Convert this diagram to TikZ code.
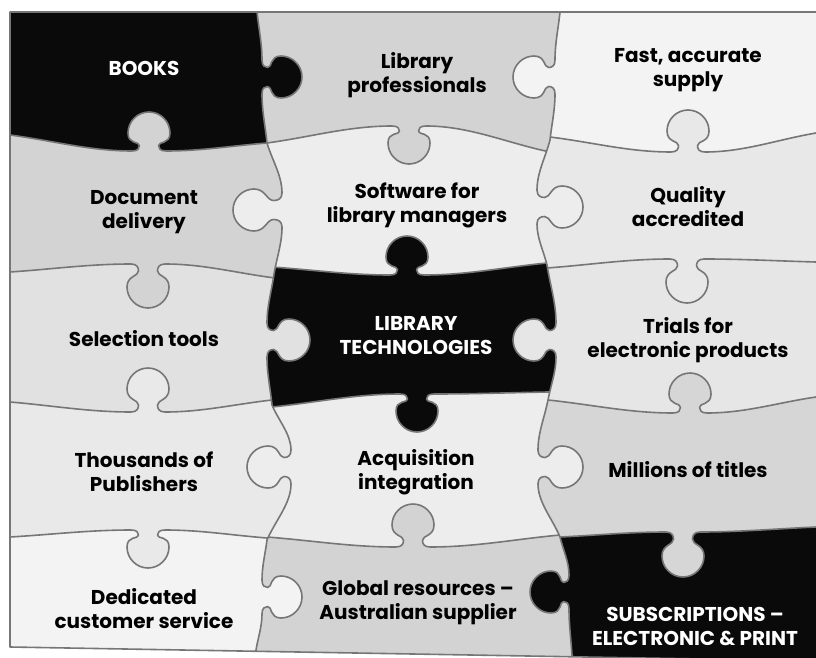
\documentclass[tikz,border=0pt]{standalone}
\usepackage{fontspec}
\setmainfont{Poppins}
% horizontal edge with knob: #1 Px #2 Py #3 kx #4 ky #5 sign #6 Ex #7 Ey #8 hc
\newcommand\HS[8]{ .. controls ({#1+0.35*(#3-17-(#1))},{#2+0.35*(#4-(#2))}) and ({#3-17-0.35*(#3-17-(#1))},{#4}) .. ({#3-17},{#4})
 .. controls ({#3-11},{#4}) and ({#3-9.5},{#4+(#5)*0.15*#8}) .. ({#3-9.5},{#4+(#5)*0.3*#8})
 .. controls ({#3-9.5},{#4+(#5)*0.545*#8}) and ({#3-21},{#4+(#5)*(#8-11.5)}) .. ({#3-21},{#4+(#5)*#8})
 .. controls ({#3-21},{#4+(#5)*(#8+11.5)}) and ({#3-11.5},{#4+(#5)*(#8+21)}) .. ({#3},{#4+(#5)*(#8+21)})
 .. controls ({#3+11.5},{#4+(#5)*(#8+21)}) and ({#3+21},{#4+(#5)*(#8+11.5)}) .. ({#3+21},{#4+(#5)*#8})
 .. controls ({#3+21},{#4+(#5)*(#8-11.5)}) and ({#3+9.5},{#4+(#5)*0.545*#8}) .. ({#3+9.5},{#4+(#5)*0.3*#8})
 .. controls ({#3+9.5},{#4+(#5)*0.15*#8}) and ({#3+11},{#4}) .. ({#3+17},{#4})
 .. controls ({#3+17+0.35*(#6-(#3)-17)},{#4}) and ({#6-0.35*(#6-(#3)-17)},{#7-0.35*(#7-(#4))}) .. ({#6},{#7}) }
% vertical edge with knob
\newcommand\VS[8]{ .. controls ({#1+0.35*(#3-(#1))},{#2+0.35*(#4-17-(#2))}) and ({#3},{#4-17-0.35*(#4-17-(#2))}) .. ({#3},{#4-17})
 .. controls ({#3},{#4-11}) and ({#3+(#5)*0.15*#8},{#4-9.5}) .. ({#3+(#5)*0.3*#8},{#4-9.5})
 .. controls ({#3+(#5)*0.545*#8},{#4-9.5}) and ({#3+(#5)*(#8-11.5)},{#4-21}) .. ({#3+(#5)*#8},{#4-21})
 .. controls ({#3+(#5)*(#8+11.5)},{#4-21}) and ({#3+(#5)*(#8+21)},{#4-11.5}) .. ({#3+(#5)*(#8+21)},{#4})
 .. controls ({#3+(#5)*(#8+21)},{#4+11.5}) and ({#3+(#5)*(#8+11.5)},{#4+21}) .. ({#3+(#5)*#8},{#4+21})
 .. controls ({#3+(#5)*(#8-11.5)},{#4+21}) and ({#3+(#5)*0.545*#8},{#4+9.5}) .. ({#3+(#5)*0.3*#8},{#4+9.5})
 .. controls ({#3+(#5)*0.15*#8},{#4+9.5}) and ({#3},{#4+11}) .. ({#3},{#4+17})
 .. controls ({#3},{#4+17+0.35*(#7-(#4)-17)}) and ({#6-0.35*(#6-(#3))},{#7-0.35*(#7-(#4)-17)}) .. ({#6},{#7}) }
% column A
\edef\HAi{(-100,135) -- (10,135) \HS{10}{135}{149}{151}{-1}{267}{143}{18} -- (900,143)}
\edef\HAii{(-100,272) -- (10,272) \HS{10}{272}{148}{264}{1}{275}{278}{23} -- (900,278)}
\edef\HAiii{(-100,402) -- (10,402) \HS{10}{402}{148}{412}{-1}{272}{400}{23} -- (900,400)}
\edef\HAiv{(-100,537) -- (10,537) \HS{10}{537}{148}{530}{1}{267}{538}{17} -- (900,538)}
% column B
\edef\HBi{(-100,143) -- (267,143) \HS{267}{143}{409}{126}{1}{550}{152}{17} -- (900,152)}
\edef\HBii{(-100,267) -- (272,267) \HS{272}{267}{407}{275}{-1}{547}{263}{18} -- (900,263)}
\edef\HBiii{(-100,407) -- (272,407) \HS{272}{407}{417}{394}{1}{548}{392}{17} -- (900,392)}
\edef\HBiv{(-100,537) -- (267,537) \HS{267}{537}{413}{547}{-1}{560}{535}{22} -- (900,535)}
% column C
\edef\HCi{(-100,137) -- (550,137) \HS{550}{137}{688}{152}{-1}{816}{133}{21} -- (900,133)}
\edef\HCii{(-100,268) -- (547,268) \HS{547}{268}{687}{259}{1}{816}{262}{23} -- (900,262)}
\edef\HCiii{(-100,400) -- (548,400) \HS{548}{400}{690}{413}{-1}{816}{397}{19} -- (900,397)}
\edef\HCiv{(-100,537) -- (560,537) \HS{560}{537}{683}{532}{1}{816}{527}{24} -- (900,527)}
% vertical boundaries
\edef\Vi{(257,-100) -- (257,12) \VS{257}{12}{262}{77}{1}{267}{143}{19}\VS{267}{143}{282}{210}{-1}{274}{274}{28}\VS{274}{274}{267}{340}{1}{272}{405}{22}\VS{272}{405}{291}{467}{-1}{267}{540}{23}\VS{267}{540}{262}{597}{1}{256}{650}{19} -- (256,800)}
\edef\Vii{(560,-100) -- (560,12) \VS{560}{12}{555}{77}{-1}{550}{140}{21}\VS{550}{140}{537}{207}{1}{547}{265}{25}\VS{547}{265}{556}{340}{-1}{548}{400}{22}\VS{548}{400}{538}{467}{1}{560}{537}{24}\VS{560}{537}{569}{592}{-1}{572}{655}{18} -- (572,800)}
\def\outline{(10,12) -- (816,12) -- (816,661) -- (10,647) -- cycle}
\newcommand\piece[5]{\begin{scope}
 \ifx#1\relax\else\clip #1 -- (900,800) -- (-100,800) -- cycle;\fi
 \ifx#2\relax\else\clip #2 -- (900,-100) -- (-100,-100) -- cycle;\fi
 \ifx#3\relax\else\clip #3 -- (900,800) -- (900,-100) -- cycle;\fi
 \ifx#4\relax\else\clip #4 -- (-100,800) -- (-100,-100) -- cycle;\fi
 \fill[#5] \outline;
\end{scope}}
\definecolor{cBlk}{HTML}{0A0A0A}
\definecolor{cMid}{HTML}{D3D3D3}
\definecolor{cMil}{HTML}{D6D6D6}
\definecolor{cWht}{HTML}{F3F3F3}
\definecolor{cSoft}{HTML}{EDEDED}
\definecolor{cQual}{HTML}{E8E8E8}
\definecolor{cSel}{HTML}{E1E1E1}
\definecolor{cTri}{HTML}{E6E6E6}
\definecolor{cTho}{HTML}{E9E9E9}
\definecolor{cEdge}{HTML}{767676}
\begin{document}
\begin{tikzpicture}[x=1pt,y=-1pt,
  lab/.style={font=\fontsize{20}{24}\selectfont\bfseries, align=center, text=black, inner sep=0pt},
  wlab/.style={lab, text=white},
  edge/.style={draw=cEdge, line width=1.6pt, line join=round}]
\fill[white] (0,0) rectangle (816,658);
% pieces
\piece{\relax}{\HAi}{\relax}{\Vi}{cBlk}
\piece{\HAi}{\HAii}{\relax}{\Vi}{cMid}
\piece{\HAii}{\HAiii}{\relax}{\Vi}{cSel}
\piece{\HAiii}{\HAiv}{\relax}{\Vi}{cTho}
\piece{\HAiv}{\relax}{\relax}{\Vi}{cWht}
\piece{\relax}{\HBi}{\Vi}{\Vii}{cMid}
\piece{\HBi}{\HBii}{\Vi}{\Vii}{cSoft}
\piece{\HBii}{\HBiii}{\Vi}{\Vii}{cBlk}
\piece{\HBiii}{\HBiv}{\Vi}{\Vii}{cSoft}
\piece{\HBiv}{\relax}{\Vi}{\Vii}{cMid}
\piece{\relax}{\HCi}{\Vii}{\relax}{cWht}
\piece{\HCi}{\HCii}{\Vii}{\relax}{cQual}
\piece{\HCii}{\HCiii}{\Vii}{\relax}{cTri}
\piece{\HCiii}{\HCiv}{\Vii}{\relax}{cMil}
\piece{\HCiv}{\relax}{\Vii}{\relax}{cBlk}
% outlines
\begin{scope}
 \clip \outline;
 \begin{scope}
  \clip \Vi -- (-100,800) -- (-100,-100) -- cycle;
  \draw[edge] \HAi; \draw[edge] \HAii; \draw[edge] \HAiii; \draw[edge] \HAiv;
 \end{scope}
 \begin{scope}
  \clip \Vi -- (900,800) -- (900,-100) -- cycle;
  \clip \Vii -- (-100,800) -- (-100,-100) -- cycle;
  \draw[edge] \HBi; \draw[edge] \HBii; \draw[edge] \HBiii; \draw[edge] \HBiv;
 \end{scope}
 \begin{scope}
  \clip \Vii -- (900,800) -- (900,-100) -- cycle;
  \draw[edge] \HCi; \draw[edge] \HCii; \draw[edge] \HCiii; \draw[edge] \HCiv;
 \end{scope}
 \draw[edge] \Vi;
 \draw[edge] \Vii;
\end{scope}
\draw[edge, line cap=butt] (816,12) -- (10,12) -- (10,647) -- (816,661);
% labels
\node[wlab] (books) at (144,68) {BOOKS};
\node[lab] (libprof) at (417,75) {Library\\professionals};
\node[lab] (fast) at (688,70) {Fast, accurate\\supply};
\node[lab] (doc) at (144,212) {Document\\delivery};
\node[lab] (soft) at (417,205) {Software for\\library managers};
\node[lab] (qual) at (688,207) {Quality\\accredited};
\node[lab] (sel) at (144,339) {Selection tools};
\node[wlab] (libtech) at (416,336) {LIBRARY\\TECHNOLOGIES};
\node[lab] (trials) at (688,340) {Trials for\\electronic products};
\node[lab] (thou) at (144,472) {Thousands of\\Publishers};
\node[lab] (acq) at (416,472) {Acquisition\\integration};
\node[lab] (mil) at (688,470) {Millions of titles};
\node[lab] (ded) at (144,609) {Dedicated\\customer service};
\node[lab] (glob) at (418,603) {Global resources –\\Australian supplier};
\node[wlab] (subs) at (695,626) {SUBSCRIPTIONS –\\ELECTRONIC \& PRINT};
\pgfresetboundingbox
\useasboundingbox (0,0) rectangle (816,658);
\end{tikzpicture}
\end{document}
